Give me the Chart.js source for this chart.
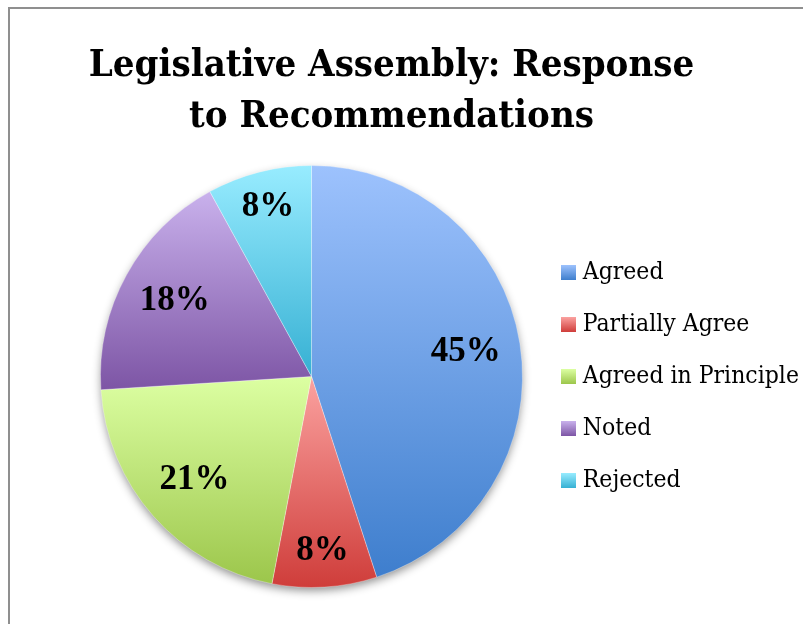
<!DOCTYPE html>
<html>
<head>
<meta charset="utf-8">
<title>Legislative Assembly: Response to Recommendations</title>
<script src="https://cdn.jsdelivr.net/npm/chart.js@4.4.1/dist/chart.umd.min.js"></script>
<style>
  html, body { margin: 0; padding: 0; background: #fff; }
  #wrap { width: 803px; height: 624px; }
</style>
</head>
<body>
<div id="wrap"><canvas id="responseChart" width="803" height="624"></canvas></div>
<script>
const chartTitle = ['Legislative Assembly: Response', 'to Recommendations'];
const categories = ['Agreed', 'Partially Agree', 'Agreed in Principle', 'Noted', 'Rejected'];
const percentages = [45, 8, 21, 18, 8];
// each slice is shaded light at the top to dark at the bottom
const topColors = ['#9dc2fd', '#fba2a0', '#dcffa2', '#c9b1ec', '#98ecff'];
const bottomColors = ['#3e7ecd', '#cf3d3a', '#9cc64b', '#7d55a5', '#36b0d3'];

const serif = '"DejaVu Serif Condensed", "DejaVu Serif", serif';

// vertical gradient spanning the slice's own bounding box
function sliceGradient(context) {
    const i = context.dataIndex;
    const arc = context.element;
    if (!arc || arc.outerRadius === undefined) return topColors[i];
    const { x, y, startAngle, endAngle, outerRadius } = arc;
    let minY = y, maxY = y;
    const check = a => {
        const py = y + outerRadius * Math.sin(a);
        minY = Math.min(minY, py);
        maxY = Math.max(maxY, py);
    };
    check(startAngle);
    check(endAngle);
    for (let k = Math.ceil((startAngle - Math.PI / 2) / Math.PI); Math.PI / 2 + k * Math.PI <= endAngle; k++) {
        check(Math.PI / 2 + k * Math.PI);
    }
    const g = context.chart.ctx.createLinearGradient(0, minY, 0, maxY);
    g.addColorStop(0, topColors[i]);
    g.addColorStop(1, bottomColors[i]);
    return g;
}

function legendSwatch(i) {
    const c = document.createElement('canvas');
    c.width = 15;
    c.height = 15;
    const cx = c.getContext('2d');
    const g = cx.createLinearGradient(0, 0, 0, 15);
    g.addColorStop(0, topColors[i]);
    g.addColorStop(1, bottomColors[i]);
    cx.fillStyle = g;
    cx.fillRect(0, 0, 15, 15);
    return c;
}
const swatches = categories.map((_, i) => legendSwatch(i));

// grey frame round the chart
const frame = {
    id: 'frame',
    beforeDraw(chart) {
        const ctx = chart.ctx;
        ctx.save();
        ctx.strokeStyle = '#8f8f8f';
        ctx.lineWidth = 2;
        ctx.beginPath();
        ctx.moveTo(9, chart.height);
        ctx.lineTo(9, 8);
        ctx.lineTo(chart.width, 8);
        ctx.stroke();
        ctx.restore();
    }
};

// soft drop shadow under the pie
const pieShadow = {
    id: 'pieShadow',
    beforeDatasetsDraw(chart) {
        const arc = chart.getDatasetMeta(0).data[0];
        if (!arc) return;
        const ctx = chart.ctx;
        ctx.save();
        ctx.shadowColor = 'rgba(0, 0, 0, 0.45)';
        ctx.shadowBlur = 10;
        ctx.shadowOffsetY = 4;
        ctx.fillStyle = '#ffffff';
        ctx.beginPath();
        ctx.arc(arc.x, arc.y, arc.outerRadius - 1, 0, Math.PI * 2);
        ctx.fill();
        ctx.restore();
    }
};

// percentage labels inside the slices
const sliceLabels = {
    id: 'sliceLabels',
    afterDatasetsDraw(chart) {
        const ctx = chart.ctx;
        const meta = chart.getDatasetMeta(0);
        ctx.save();
        ctx.font = 'bold 35px "Liberation Serif"';
        ctx.fillStyle = '#000';
        ctx.textAlign = 'center';
        ctx.textBaseline = 'middle';
        meta.data.forEach((arc, i) => {
            const mid = (arc.startAngle + arc.endAngle) / 2;
            const dist = arc.outerRadius * (percentages[i] < 10 ? 0.83 : 0.74);
            ctx.fillText(percentages[i] + '%', arc.x + Math.cos(mid) * dist, arc.y + Math.sin(mid) * dist);
        });
        ctx.restore();
    }
};

// title sits a little left of the full-width centre
const titleShift = {
    id: 'titleShift',
    afterLayout(chart) {
        const t = chart.titleBlock;
        if (!t) return;
        t.left -= 52;
        t.right -= 52;
    }
};

const ctx = document.getElementById('responseChart').getContext('2d');
const responseChart = new Chart(ctx, {
    type: 'pie',
    data: {
        labels: categories,
        datasets: [{
            data: percentages,
            backgroundColor: sliceGradient,
            borderColor: 'rgba(255, 255, 255, 0.3)',
            borderWidth: 1,
            hoverBorderWidth: 1,
            offset: 0,
            hoverOffset: 0
        }]
    },
    options: {
        responsive: false,
        animation: false,
        events: [],
        layout: {
            padding: { left: 84, right: 0, top: 0, bottom: 36 }
        },
        plugins: {
            title: {
                display: true,
                text: chartTitle,
                color: '#000',
                font: { family: serif, size: 38, weight: 'bold', lineHeight: 51 / 38 },
                padding: { top: 41, bottom: 22 }
            },
            legend: {
                position: 'right',
                fullSize: false,
                maxWidth: 264,
                labels: {
                    usePointStyle: true,
                    boxWidth: 4,
                    padding: 27.5,
                    color: '#000',
                    font: { family: serif, size: 24.5 },
                    generateLabels: chart => categories.map((label, i) => ({
                        text: label,
                        fillStyle: topColors[i],
                        strokeStyle: 'transparent',
                        lineWidth: 0,
                        pointStyle: swatches[i],
                        hidden: false,
                        index: i
                    }))
                }
            },
            tooltip: { enabled: false }
        }
    },
    plugins: [frame, pieShadow, sliceLabels, titleShift]
});
responseChart.update('none');
</script>
</body>
</html>
